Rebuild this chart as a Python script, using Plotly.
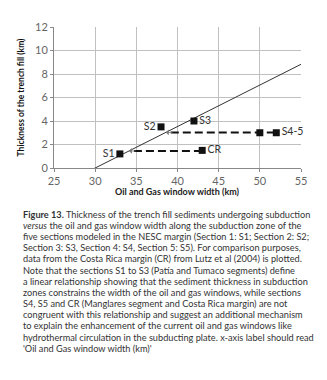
import plotly.graph_objects as go

# ---- data ----
section_labels = ["S1", "S2", "S3", "S4", "S5", "CR"]
window_width_km = [33, 38, 42, 50, 52, 43]
trench_fill_km = [1.2, 3.5, 4.0, 3.0, 3.0, 1.5]
label_text = ["S1", "S2", "S3", "", "S4-5", "CR"]
label_pos = ["middle left", "middle left", "middle right", "middle right", "middle right", "middle right"]

trend_slope = 0.353
trend_x0 = 30.0          # x where trend line crosses 0
trend_x_range = [29.35, 55]

# dashed offsets: (start x of dashed line, y level)
offset_start_x = [52, 43]
offset_y = [3.03, 1.45]

x_ticks = [25, 30, 35, 40, 45, 50, 55]
y_ticks = [0, 2, 4, 6, 8, 10, 12]

x_title = "Oil and Gas window width (km)"
y_title = "Thickness of the trench fill (km)"

caption_lines = [
    "<b>Figure 13.</b> Thickness of the trench fill sediments undergoing subduction",
    "<i>versus</i> the oil and gas window width along the subduction zone of the",
    "five sections modeled in the NESC margin (Section 1: S1; Section 2: S2;",
    "Section 3: S3, Section 4: S4, Section 5: S5). For comparison purposes,",
    "data from the Costa Rica margin (CR) from Lutz et al (2004) is plotted.",
    "Note that the sections S1 to S3 (Patía and Tumaco segments) define",
    "a linear relationship showing that the sediment thickness in subduction",
    "zones constrains the width of the oil and gas windows, while sections",
    "S4, S5 and CR (Manglares segment and Costa Rica margin) are not",
    "congruent with this relationship and suggest an additional mechanism",
    "to explain the enhancement of the current oil and gas windows like",
    "hydrothermal circulation in the subducting plate. x-axis label should read",
    "'Oil and Gas window width (km)'",
]

FONT = "Lato"
# page has an 8px body margin, so the figure is sized/offset accordingly
W, H = 311, 364
ML, MR, MT, MB = 35, 17, 13, 204
plot_w = W - ML - MR
plot_h = H - MT - MB

fig = go.Figure()

# trend line
ty = [trend_slope * (x - trend_x0) for x in trend_x_range]
fig.add_trace(go.Scatter(x=trend_x_range, y=ty, mode="lines",
                         line=dict(color="#333333", width=1), hoverinfo="skip",
                         cliponaxis=False))

# dashed offsets and arrowheads
for sx, yy in zip(offset_start_x, offset_y):
    tip = trend_x0 + yy / trend_slope
    fig.add_trace(go.Scatter(x=[tip + 0.6, sx], y=[yy, yy], mode="lines",
                             line=dict(color="#111111", width=2, dash="8px,4px")))
    fig.add_annotation(x=tip, y=yy, ax=tip + 1.0, ay=yy, axref="x", ayref="y",
                       xref="x", yref="y", text="", showarrow=True,
                       arrowhead=1, arrowsize=1.2, arrowwidth=0.8, arrowcolor="#777777")

# markers with labels
fig.add_trace(go.Scatter(x=window_width_km, y=trench_fill_km, mode="markers+text",
                         marker=dict(symbol="square", size=7, color="#111111"),
                         text=label_text, textposition=label_pos,
                         textfont=dict(family=FONT, size=10.5, color="#333333"),
                         cliponaxis=False))

fig.update_xaxes(range=[25, 55], tickvals=x_ticks, showgrid=True, gridcolor="#c0c0c0",
                 gridwidth=1, zeroline=False, showline=True, linecolor="#888888",
                 ticks="outside", ticklen=3, tickcolor="#888888",
                 tickfont=dict(family=FONT, size=11, color="#666666"))
fig.update_yaxes(range=[0, 12], tickvals=y_ticks, showgrid=True, gridcolor="#c0c0c0",
                 gridwidth=1, zeroline=False, showline=True, linecolor="#888888",
                 ticks="outside", ticklen=3, tickcolor="#888888",
                 tickfont=dict(family=FONT, size=11, color="#666666"),
                 title=dict(text="<b>" + y_title + "</b>",
                            font=dict(family=FONT, size=8.5, color="#111111"), standoff=9))

# x-axis title as annotation
fig.add_annotation(xref="paper", yref="paper", x=0.5, y=(H - MB - 185) / plot_h,
                   xanchor="center", yanchor="middle", showarrow=False,
                   text="<b>" + x_title + "</b>",
                   font=dict(family=FONT, size=9, color="#222222"))

# caption
first_y, spacing = 208, 11.67
for i, line in enumerate(caption_lines):
    ypix = first_y + i * spacing
    fig.add_annotation(xref="paper", yref="paper",
                       x=(0 - ML) / plot_w, y=(H - MB - ypix) / plot_h,
                       xanchor="left", yanchor="middle", showarrow=False,
                       text=line, align="left",
                       font=dict(family=FONT, size=9.2, color="#333333"))

fig.update_layout(width=W, height=H, margin=dict(l=ML, r=MR, t=MT, b=MB),
                  paper_bgcolor="white", plot_bgcolor="white", showlegend=False)

fig.write_html("out.html")
